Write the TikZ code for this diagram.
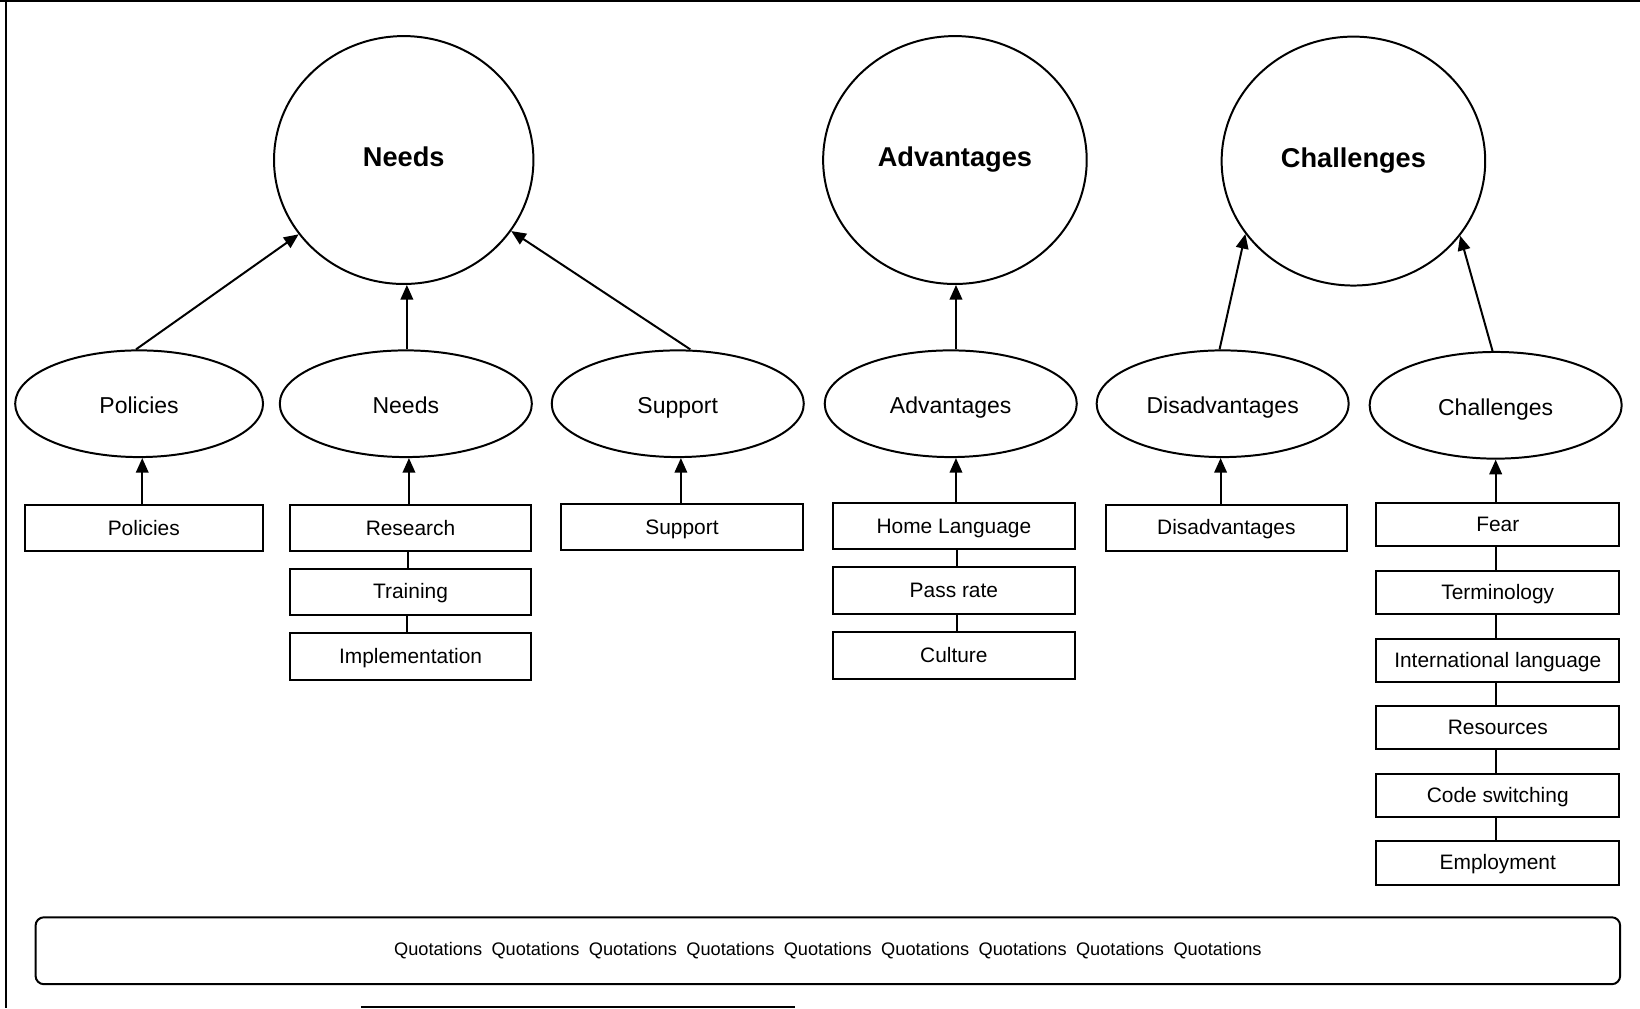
\documentclass[tikz,border=0pt]{standalone}
\usepackage{fontspec}
\setmainfont{Liberation Sans}
\usetikzlibrary{shapes.geometric,arrows.meta,calc}
\begin{document}
\begin{tikzpicture}[x=0.5pt,y=-0.5pt,
  line width=0.95pt,
  bigc/.style={draw,ellipse,inner sep=0pt,minimum width=124pt,minimum height=118.5pt,text height=9.5pt,text depth=3.5pt,font=\fontsize{13}{15}\selectfont\bfseries},
  smalle/.style={draw,ellipse,inner sep=0pt,minimum width=120.5pt,minimum height=51pt,text height=9.5pt,text depth=0pt,font=\fontsize{11}{13}\selectfont},
  rbox/.style={draw,rectangle,inner sep=0pt,minimum width=115.5pt,minimum height=22pt,text height=7.8pt,text depth=1.2pt,font=\fontsize{10}{12}\selectfont},
  cbox/.style={rbox,minimum height=20.5pt},
  arr/.style={-{Triangle[length=7pt,width=6pt]}},
  frameline/.style={line width=1pt}
]
\useasboundingbox (0,0) rectangle (1568,964);
% frame
\draw[frameline] (0,1) -- (1568,1);
\draw[frameline] (6,0) -- (6,964);
\draw[frameline] (345,963) -- (760,963);

% big circles
\node[bigc] (Nbig) at (386,153) {Needs};
\node[bigc,minimum width=126pt] (Abig) at (913,153) {Advantages};
\node[bigc,minimum width=126pt,minimum height=119pt] (Cbig) at (1294,154) {Challenges};

% small ellipses
\node[smalle,minimum width=118.5pt] (pol) at (133,386) {Policies};
\node[smalle] (nee) at (388,386) {Needs};
\node[smalle] (sup) at (648,386) {Support};
\node[smalle] (adv) at (909,386) {Advantages};
\node[smalle] (dis) at (1169,386) {Disadvantages};
\node[smalle] (cha) at (1430,387.5) {Challenges};

% rectangles
\node[rbox,minimum width=113.5pt] (rpol) at (137.5,505) {Policies};
\node[rbox] (rres) at (392.5,505) {Research};
\node[rbox] (rtra) at (392.5,566) {Training};
\node[rbox,minimum height=22.5pt] (rimp) at (392.5,627.5) {Implementation};
\node[rbox,minimum width=116pt] (rsup) at (652,504) {Support};
\node[rbox,minimum width=116pt] (rhom) at (912,503) {Home Language};
\node[rbox,minimum width=116pt,minimum height=22.5pt] (rpas) at (912,564.5) {Pass rate};
\node[rbox,minimum width=116pt,minimum height=22.5pt] (rcul) at (912,626.5) {Culture};
\node[rbox] (rdis) at (1172.5,504.5) {Disadvantages};
\node[cbox,minimum width=116pt] (rfea) at (1432,501.5) {Fear};
\node[cbox,minimum width=116pt] (rter) at (1432,566.5) {Terminology};
\node[cbox,minimum width=116pt] (rint) at (1432,631.5) {International language};
\node[cbox,minimum width=116pt] (rreso) at (1432,695.5) {Resources};
\node[cbox,minimum width=116pt] (rcod) at (1432,760.5) {Code switching};
\node[cbox,minimum width=116pt,minimum height=21pt] (remp) at (1432,825) {Employment};

% quotations box
\node[draw,rectangle,rounded corners=4pt,minimum width=757.5pt,minimum height=32pt,inner sep=0pt,
  font=\fontsize{8.7}{10}\selectfont] (quo) at (791.5,909)
  {\raisebox{1pt}{Quotations\hspace{4.5pt}Quotations\hspace{4.5pt}Quotations\hspace{4.5pt}Quotations\hspace{4.5pt}Quotations\hspace{4.5pt}Quotations\hspace{4.5pt}Quotations\hspace{4.5pt}Quotations\hspace{4.5pt}Quotations}};

% ellipse -> big circle arrows
\draw[arr] ($(pol.north)+(-3,0)$) -- (Nbig);
\draw[arr] ($(nee.north)+(1,0)$) -- ($(nee.north |- Nbig.south)+(1,0)$);
\draw[arr] ($(sup.north)+(12,0)$) -- (Nbig);
\draw[arr] ($(adv.north)+(5,0)$) -- ($(adv.north |- Abig.south)+(5,0)$);
\draw[arr] ($(dis.north)+(-3,0)$) -- (Cbig.214.6);
\draw[arr] ($(cha.north)+(-3,0)$) -- (Cbig.325.4);

% rect -> ellipse arrows
\draw[arr] ($(rpol.north)+(-1.5,0)$) -- ($(rpol.north |- pol.south)+(-1.5,0)$);
\draw[arr] ($(rres.north)+(-1.5,0)$) -- ($(rres.north |- nee.south)+(-1.5,0)$);
\draw[arr] ($(rsup.north)+(-1,0)$) -- ($(rsup.north |- sup.south)+(-1,0)$);
\draw[arr] ($(rhom.north)+(2,0)$) -- ($(rhom.north |- adv.south)+(2,0)$);
\draw[arr] ($(rdis.north)+(-5.5,0)$) -- ($(rdis.north |- dis.south)+(-5.5,0)$);
\draw[arr] ($(rfea.north)+(-2,0)$) -- ($(rfea.north |- cha.south)+(-2,0)$);

% rect chains
\draw ($(rres.south)+(-2,0)$) -- ($(rtra.north)+(-2,0)$);
\draw ($(rtra.south)+(-3,0)$) -- ($(rimp.north)+(-3,0)$);
\draw ($(rhom.south)+(3,0)$) -- ($(rpas.north)+(3,0)$);
\draw ($(rpas.south)+(3,0)$) -- ($(rcul.north)+(3,0)$);
\draw ($(rfea.south)+(-2,0)$) -- ($(rter.north)+(-2,0)$);
\draw ($(rter.south)+(-2,0)$) -- ($(rint.north)+(-2,0)$);
\draw ($(rint.south)+(-2,0)$) -- ($(rreso.north)+(-2,0)$);
\draw ($(rreso.south)+(-2,0)$) -- ($(rcod.north)+(-2,0)$);
\draw ($(rcod.south)+(-2,0)$) -- ($(remp.north)+(-2,0)$);
\end{tikzpicture}
\end{document}
